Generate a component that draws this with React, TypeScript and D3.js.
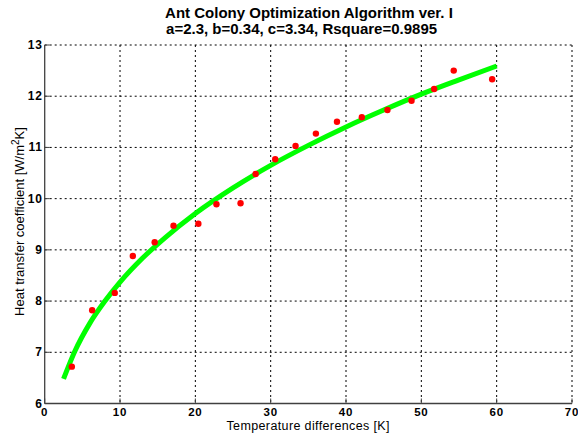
import React from "react";
import * as d3 from "d3";

const W = 578;
const H = 436;

const xTicks = [0, 10, 20, 30, 40, 50, 60, 70];
const yTicks = [6, 7, 8, 9, 10, 11, 12, 13];

const measuredX = [3.6, 6.3, 9.3, 11.7, 14.6, 17.1, 20.4, 22.8, 26.0, 28.0, 30.6, 33.3, 36.0, 38.8, 42.1, 45.5, 48.7, 51.7, 54.3, 59.4];
const measuredY = [6.72, 7.82, 8.16, 8.88, 9.15, 9.47, 9.51, 9.89, 9.91, 10.48, 10.77, 11.03, 11.27, 11.5, 11.59, 11.73, 11.91, 12.14, 12.5, 12.33];

const fitX = [2.5, 4, 6, 8, 10, 13, 16, 20, 25, 30, 35, 40, 45, 50, 55, 60];
const fitY = [6.48, 7.02, 7.57, 8.0, 8.37, 8.84, 9.24, 9.71, 10.21, 10.65, 11.04, 11.4, 11.73, 12.04, 12.32, 12.59];

export default function App() {
  const left = 44.7, right = 572, top = 45, bottom = 403.5;
  const x = d3.scaleLinear().domain([0, 70]).range([left, right]);
  const y = d3.scaleLinear().domain([6, 13]).range([bottom, top]);
  const line = d3
    .line<number>()
    .x((_, i) => x(fitX[i]))
    .y((d) => y(d))
    .curve(d3.curveMonotoneX);
  const font = "Arial, 'Liberation Sans', Helvetica, sans-serif";
  return (
    <svg width={W} height={H} style={{ position: "absolute", left: 0, top: 0, background: "#fff" }} fontFamily={font}>
      <rect width={W} height={H} fill="#fff" />
      {/* grid */}
      {xTicks.slice(1).map((t) => (
        <line key={"gx" + t} x1={x(t)} x2={x(t)} y1={top} y2={bottom} stroke="#000" strokeWidth={1} strokeDasharray="2,3" />
      ))}
      {yTicks.slice(1).map((t) => (
        <line key={"gy" + t} x1={left} x2={right} y1={y(t)} y2={y(t)} stroke="#000" strokeWidth={1} strokeDasharray="2,3" />
      ))}
      {/* axes */}
      <line x1={left} x2={left} y1={top} y2={bottom} stroke="#404040" strokeWidth={1.3} />
      <line x1={left} x2={right} y1={bottom} y2={bottom} stroke="#404040" strokeWidth={1.3} />
      {yTicks.map((t) => (
        <line key={"ty" + t} x1={left} x2={left + 5} y1={y(t)} y2={y(t)} stroke="#404040" />
      ))}
      {xTicks.map((t) => (
        <line key={"tx" + t} x1={x(t)} x2={x(t)} y1={bottom} y2={bottom - 5} stroke="#404040" />
      ))}
      {/* tick labels */}
      {yTicks.map((t) => (
        <text key={"ly" + t} x={left - 2} y={y(t) + 4} textAnchor="end" fontSize={12} fontWeight="bold" letterSpacing={0.8}>
          {t}
        </text>
      ))}
      {xTicks.map((t) => (
        <text key={"lx" + t} x={x(t)} y={bottom + 12} textAnchor="middle" fontSize={11.5} fontWeight="bold" letterSpacing={0.8}>
          {t}
        </text>
      ))}
      {/* fit curve */}
      <path d={line(fitY) || ""} fill="none" stroke="#00ff00" strokeWidth={5} />
      {/* points */}
      {measuredY.map((v, i) => (
        <circle key={"p" + i} cx={x(measuredX[i])} cy={y(v)} r={3.2} fill="#ff0000" />
      ))}
      {/* titles */}
      <text x={309} y={17.5} textAnchor="middle" fontSize={15} fontWeight="bold">
        Ant Colony Optimization Algorithm ver. I
      </text>
      <text x={301.6} y={33.5} textAnchor="middle" fontSize={15} fontWeight="bold">
        a=2.3, b=0.34, c=3.34, Rsquare=0.9895
      </text>
      <text x={308} y={430} textAnchor="middle" fontSize={12.5} textLength={163} lengthAdjust="spacing">
        Temperature differences [K]
      </text>
      <text transform={`translate(24, ${221.5}) rotate(-90)`} textAnchor="middle" fontSize={13}>
        Heat transfer coefficient [W/m<tspan dy={-5} fontSize={10}>2</tspan><tspan dy={5}>K]</tspan>
      </text>
    </svg>
  );
}
